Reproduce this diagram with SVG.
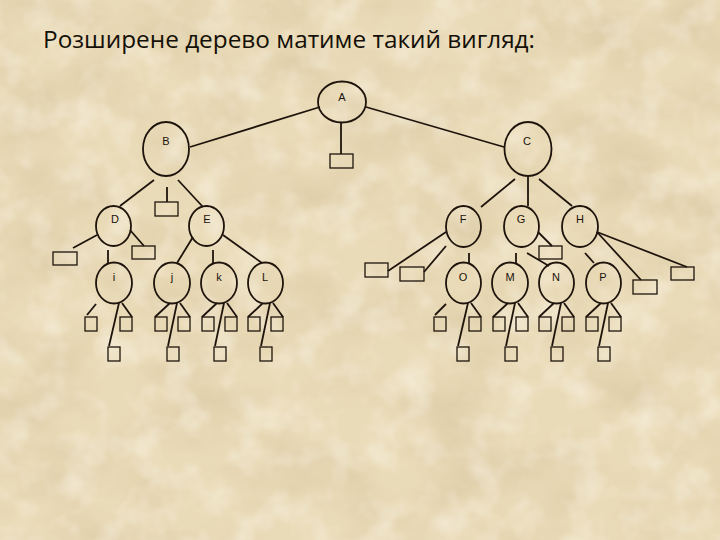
<svg xmlns="http://www.w3.org/2000/svg" width="720" height="540" viewBox="0 0 720 540">
<defs>
<filter id="paper" x="0" y="0" width="100%" height="100%" filterUnits="userSpaceOnUse">
<feTurbulence type="fractalNoise" baseFrequency="0.012 0.018" numOctaves="4" seed="7" result="n"/>
<feColorMatrix in="n" type="matrix" values="0 0 0 0 0.62  0 0 0 0 0.5  0 0 0 0 0.3  0.9 0 0 0 -0.36"/>
</filter>
<filter id="light" x="0" y="0" width="100%" height="100%" filterUnits="userSpaceOnUse">
<feTurbulence type="fractalNoise" baseFrequency="0.03" numOctaves="3" seed="2" result="n"/>
<feColorMatrix in="n" type="matrix" values="0 0 0 0 1  0 0 0 0 0.98  0 0 0 0 0.92  0 0.9 0 0 -0.4"/>
</filter>
<style>
.t{font-family:"Liberation Sans",Arial,sans-serif;font-size:11px;fill:#1a120c;text-anchor:middle}
.n ellipse{fill:none;stroke:#1e140c;stroke-width:1.8}
.n rect{fill:none;stroke:#1e140c;stroke-width:1.3}
.c line{stroke:#1e140c;stroke-width:1.8}
.title{font-family:"Open Sans","Noto Sans","DejaVu Sans",sans-serif;font-size:23px;fill:#141008}
</style>
</defs>
<rect width="720" height="540" fill="#EADBB8"/>
<rect width="720" height="540" filter="url(#paper)"/>
<rect width="720" height="540" filter="url(#light)"/>

<text class="title" x="43" y="48" textLength="492" lengthAdjust="spacingAndGlyphs">Розширене дерево матиме такий вигляд:</text>

<g id="connectors" class="c">
<line x1="320" y1="107" x2="190" y2="147"/>
<line x1="366" y1="107" x2="504" y2="147"/>
<line x1="341" y1="123" x2="341" y2="154"/>
<line x1="154" y1="180" x2="120" y2="206"/>
<line x1="167" y1="187" x2="167" y2="202"/>
<line x1="178" y1="180" x2="203" y2="207"/>
<line x1="97" y1="235" x2="73" y2="248"/>
<line x1="130" y1="230" x2="144" y2="246"/>
<line x1="108" y1="250" x2="108" y2="263"/>
<line x1="193" y1="237" x2="177" y2="263"/>
<line x1="213" y1="250" x2="213" y2="264"/>
<line x1="223" y1="235" x2="262" y2="263"/>
<line x1="515" y1="179" x2="481" y2="207"/>
<line x1="528" y1="177" x2="528" y2="206"/>
<line x1="539" y1="179" x2="572" y2="206"/>
<line x1="446" y1="232" x2="388" y2="271"/>
<line x1="446" y1="246" x2="424" y2="272"/>
<line x1="469" y1="253" x2="469" y2="263"/>
<line x1="516" y1="253" x2="516" y2="264"/>
<line x1="538" y1="232" x2="552" y2="246"/>
<line x1="527" y1="253" x2="549" y2="266"/>
<line x1="585" y1="253" x2="594" y2="263"/>
<line x1="597" y1="232" x2="641" y2="280"/>
<line x1="597" y1="232" x2="687" y2="267"/>
<!-- i -->
<line x1="96" y1="304" x2="87" y2="315"/><line x1="122" y1="303" x2="132" y2="317"/><line x1="119" y1="303" x2="109" y2="346"/>
<!-- j -->
<line x1="170" y1="303" x2="155" y2="317"/><line x1="180" y1="303" x2="190" y2="317"/><line x1="177" y1="303" x2="168" y2="346"/>
<!-- k -->
<line x1="217" y1="303" x2="202" y2="317"/><line x1="227" y1="303" x2="237" y2="317"/><line x1="224" y1="303" x2="215" y2="346"/>
<!-- L -->
<line x1="263" y1="303" x2="248" y2="317"/><line x1="273" y1="303" x2="283" y2="317"/><line x1="270" y1="303" x2="261" y2="346"/>
<!-- O -->
<line x1="446" y1="304" x2="435" y2="315"/><line x1="471" y1="303" x2="481" y2="317"/><line x1="468" y1="303" x2="458" y2="346"/>
<!-- M -->
<line x1="508" y1="303" x2="493" y2="317"/><line x1="518" y1="303" x2="528" y2="317"/><line x1="515" y1="303" x2="506" y2="346"/>
<!-- N -->
<line x1="554" y1="303" x2="539" y2="317"/><line x1="564" y1="303" x2="574" y2="317"/><line x1="561" y1="303" x2="552" y2="346"/>
<!-- P -->
<line x1="601" y1="303" x2="586" y2="317"/><line x1="611" y1="303" x2="621" y2="317"/><line x1="608" y1="303" x2="599" y2="346"/>
</g>

<g class="n">
<g id="A"><ellipse cx="342" cy="102" rx="24" ry="20.5"/><text class="t" x="342" y="101">A</text></g>
<g id="A-leaf"><rect x="330" y="154" width="23" height="14"/></g>
<g id="B"><ellipse cx="166" cy="149" rx="23" ry="27"/><text class="t" x="166" y="145">B</text></g>
<g id="C"><ellipse cx="528" cy="149" rx="23.5" ry="27"/><text class="t" x="527" y="145">C</text></g>
<g id="B-leaf"><rect x="155" y="202" width="23" height="14"/></g>
<g id="D"><ellipse cx="113.5" cy="226" rx="17.5" ry="20"/><text class="t" x="115" y="223">D</text></g>
<g id="E"><ellipse cx="206.5" cy="226" rx="17.5" ry="20"/><text class="t" x="207" y="223">E</text></g>
<g id="D-leaf1"><rect x="53" y="252" width="24" height="13"/></g>
<g id="D-leaf2"><rect x="132" y="246" width="23" height="13"/></g>
<g id="F"><ellipse cx="463.5" cy="226.5" rx="17.5" ry="20.5"/><text class="t" x="463" y="223">F</text></g>
<g id="G"><ellipse cx="521.5" cy="226.5" rx="17.5" ry="20.5"/><text class="t" x="521" y="223">G</text></g>
<g id="H"><ellipse cx="580" cy="226.5" rx="18" ry="20.5"/><text class="t" x="580" y="223">H</text></g>
<g id="F-leaf1"><rect x="365" y="263" width="23" height="14"/></g>
<g id="F-leaf2"><rect x="400" y="267" width="24" height="14"/></g>
<g id="G-leaf"><rect x="539" y="246" width="23" height="13"/></g>
<g id="H-leaf1"><rect x="633" y="280" width="24" height="14"/></g>
<g id="H-leaf2"><rect x="671" y="267" width="23" height="13"/></g>

<g id="i"><ellipse cx="114" cy="283" rx="18" ry="20.5"/><text class="t" x="114" y="281">i</text>
<rect x="85" y="317" width="12" height="14"/><rect x="120" y="317" width="12" height="14"/><rect x="108" y="347" width="12" height="14"/></g>
<g id="j"><ellipse cx="172" cy="283" rx="18" ry="20.5"/><text class="t" x="172" y="281">j</text>
<rect x="155" y="317" width="12" height="14"/><rect x="178" y="317" width="12" height="14"/><rect x="167" y="347" width="12" height="14"/></g>
<g id="k"><ellipse cx="219" cy="283" rx="18" ry="20.5"/><text class="t" x="219" y="281">k</text>
<rect x="202" y="317" width="12" height="14"/><rect x="225" y="317" width="12" height="14"/><rect x="214" y="347" width="12" height="14"/></g>
<g id="L"><ellipse cx="265.5" cy="283" rx="17.5" ry="20.5"/><text class="t" x="265" y="281">L</text>
<rect x="248" y="317" width="12" height="14"/><rect x="271" y="317" width="12" height="14"/><rect x="260" y="347" width="12" height="14"/></g>
<g id="O"><ellipse cx="463.5" cy="283" rx="17.5" ry="20.5"/><text class="t" x="463" y="281">O</text>
<rect x="434" y="317" width="12" height="14"/><rect x="469" y="317" width="12" height="14"/><rect x="457" y="347" width="12" height="14"/></g>
<g id="M"><ellipse cx="510" cy="283" rx="18" ry="20.5"/><text class="t" x="510" y="281">M</text>
<rect x="493" y="317" width="12" height="14"/><rect x="516" y="317" width="12" height="14"/><rect x="505" y="347" width="12" height="14"/></g>
<g id="N"><ellipse cx="556.5" cy="283" rx="17.5" ry="20.5"/><text class="t" x="556" y="281">N</text>
<rect x="539" y="317" width="12" height="14"/><rect x="562" y="317" width="12" height="14"/><rect x="551" y="347" width="12" height="14"/></g>
<g id="P"><ellipse cx="603.5" cy="283" rx="17.5" ry="20.5"/><text class="t" x="603" y="281">P</text>
<rect x="586" y="317" width="12" height="14"/><rect x="609" y="317" width="12" height="14"/><rect x="598" y="347" width="12" height="14"/></g>
</g>
</svg>
